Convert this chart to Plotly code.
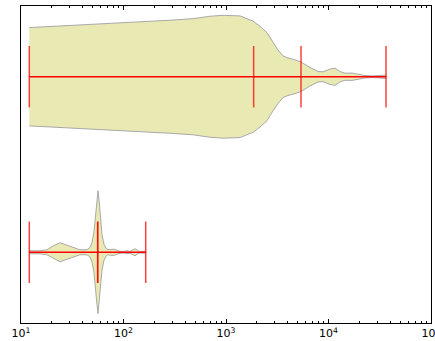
import plotly.graph_objects as go

# ---- data (values on a log axis) ----
positions = [1, 2]

# bottom violin (position 1): outline values and relative half-widths
bot_x = [12.05, 15.3, 17.9, 20.5, 24.0, 27.5, 32.2, 37.6, 43.1, 45.0, 47.1, 49.3,
         51.5, 53.3, 55.1, 56.4, 57.7, 59.7, 61.7, 64.5, 67.5, 70.6, 75.5, 80.8,
         86.4, 92.4, 101.1, 108.2, 115.7, 123.8, 129.5, 135.4, 141.6, 164.7]
bot_w = [0.025, 0.025, 0.04, 0.10, 0.155, 0.12, 0.075, 0.04, 0.04, 0.05, 0.08, 0.16,
         0.33, 0.57, 0.85, 1.0, 0.85, 0.57, 0.29, 0.13, 0.065, 0.04, 0.05, 0.05,
         0.033, 0.016, 0.013, 0.025, 0.013, 0.04, 0.057, 0.04, 0.013, 0.013]

# top violin (position 2)
top_x = [12.05, 59, 284, 477, 698, 935, 1371, 1834, 2147, 2515, 2875, 3216, 3597,
         4024, 4503, 5393, 6602, 7906, 8838, 10346, 11570, 12940, 14480, 16950,
         18970, 22700, 27170, 31780, 36400]
top_w = [0.80, 0.855, 0.92, 0.945, 0.985, 1.0, 0.99, 0.905, 0.82, 0.715, 0.555, 0.435,
         0.34, 0.305, 0.285, 0.24, 0.15, 0.085, 0.08, 0.125, 0.14, 0.085, 0.057, 0.06,
         0.044, 0.02, 0.013, 0.02, 0.027]

# summary statistics [bottom, top]
mins = [12.05, 12.05]
maxs = [164.7, 36400]
means = [56, 5393]
medians = [56, 1862]

tick_vals = [10, 100, 1000, 10000, 100000]
tick_text = ["10<sup>1</sup>", "10<sup>2</sup>", "10<sup>3</sup>", "10<sup>4</sup>", "10<sup>5</sup>"]
minor_vals = [m * 10 ** e for e in range(1, 5) for m in range(2, 10)]

# ---- figure ----
HALF = 0.35      # max half-width of a violin body
BAR = 0.175      # half-length of the marker lines

fig = go.Figure()

for pos, xs, ws in [(1, bot_x, bot_w), (2, top_x, top_w)]:
    upper = [pos + HALF * w for w in ws]
    lower = [pos - HALF * w for w in ws]
    fig.add_trace(go.Scatter(
        x=xs + xs[::-1], y=upper + lower[::-1],
        mode="lines", fill="toself", fillcolor="#e9e9b3",
        line=dict(color="#a9a9a9", width=1), hoverinfo="skip", showlegend=False))

hx, hy, vx, vy = [], [], [], []
for i, pos in enumerate(positions):
    hx += [mins[i], maxs[i], None]
    hy += [pos, pos, None]
    for v in (mins[i], maxs[i], means[i], medians[i]):
        vx += [v, v, None]
        vy += [pos - BAR, pos + BAR, None]

fig.add_trace(go.Scatter(x=vx, y=vy, mode="lines",
                         line=dict(color="rgba(255,0,0,0.75)", width=1.5),
                         hoverinfo="skip", showlegend=False))
fig.add_trace(go.Scatter(x=hx, y=hy, mode="lines",
                         line=dict(color="#ff0000", width=1.3),
                         hoverinfo="skip", showlegend=False))

fig.update_layout(
    width=435, height=341,
    margin=dict(l=21, r=4, t=6, b=18, autoexpand=False),
    paper_bgcolor="white", plot_bgcolor="white",
    font=dict(family="DejaVu Sans", size=11, color="black"),
    showlegend=False,
)
fig.update_xaxes(
    type="log", range=[1, 5], automargin=False,
    showline=True, linecolor="black", linewidth=1, mirror="ticks",
    ticks="inside", ticklen=4, tickcolor="black", tickwidth=1,
    tickmode="array", tickvals=tick_vals, ticktext=tick_text,
    ticklabeloverflow="allow",
    minor=dict(tickmode="array", tickvals=minor_vals, ticks="inside",
               ticklen=2, tickcolor="black", showgrid=False),
    showgrid=False, zeroline=False,
)
fig.update_yaxes(
    range=[0.597, 2.403], automargin=False,
    showline=True, linecolor="black", linewidth=1, mirror=True,
    ticks="", showticklabels=False, showgrid=False, zeroline=False,
)

fig.write_html("out.html",
               config={"displayModeBar": False},
               post_script="document.body.style.margin='0';document.body.style.overflow='hidden';")
